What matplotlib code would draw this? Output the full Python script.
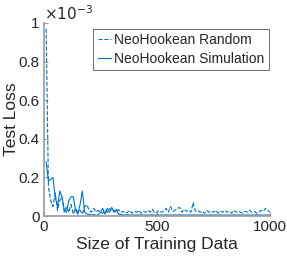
import numpy as np
import matplotlib
matplotlib.use("Agg")
import matplotlib.pyplot as plt
from matplotlib.ticker import FuncFormatter

plt.rcParams["font.family"] = ["Liberation Sans", "DejaVu Sans"]

# training data sizes
sizes = np.arange(10, 1001, 10)

# test loss (x 1e-3)
random_loss = [
    0.97, 0.15, 0.08, 0.05, 0.12, 0.03, 0.08, 0.10, 0.02, 0.05,
    0.02, 0.06, 0.01, 0.04, 0.02, 0.03, 0.01, 0.05, 0.06, 0.03,
    0.02, 0.04, 0.02, 0.03, 0.02, 0.015, 0.03, 0.02, 0.04, 0.025,
    0.03, 0.02, 0.035, 0.02, 0.025, 0.015, 0.02, 0.03, 0.015, 0.025,
    0.02, 0.03, 0.015, 0.025, 0.02, 0.03, 0.02, 0.035, 0.015, 0.02,
    0.03, 0.02, 0.025, 0.04, 0.02, 0.05, 0.025, 0.03, 0.04, 0.045,
    0.02, 0.035, 0.025, 0.03, 0.02, 0.07, 0.025, 0.03, 0.02, 0.025,
    0.015, 0.03, 0.02, 0.025, 0.02, 0.03, 0.015, 0.025, 0.02, 0.03,
    0.02, 0.025, 0.015, 0.03, 0.02, 0.025, 0.02, 0.015, 0.025, 0.02,
    0.03, 0.02, 0.025, 0.015, 0.02, 0.03, 0.025, 0.04, 0.03, 0.02,
]
sim_loss = [
    0.28, 0.18, 0.19, 0.20, 0.10, 0.05, 0.13, 0.10, 0.03, 0.02,
    0.08, 0.10, 0.10, 0.03, 0.01, 0.06, 0.13, 0.02, 0.01, 0.01,
    0.005, 0.008, 0.005, 0.006, 0.02, 0.04, 0.01, 0.04, 0.02, 0.045,
    0.02, 0.035, 0.01, 0.008, 0.006, 0.005, 0.007, 0.005, 0.006, 0.005,
    0.006, 0.005, 0.007, 0.005, 0.006, 0.005, 0.006, 0.007, 0.005, 0.006,
    0.005, 0.006, 0.005, 0.007, 0.005, 0.006, 0.005, 0.006, 0.005, 0.007,
    0.005, 0.006, 0.005, 0.006, 0.005, 0.007, 0.005, 0.006, 0.005, 0.006,
    0.005, 0.006, 0.005, 0.007, 0.005, 0.006, 0.005, 0.006, 0.005, 0.006,
    0.005, 0.006, 0.005, 0.007, 0.005, 0.006, 0.005, 0.006, 0.005, 0.006,
    0.005, 0.006, 0.005, 0.007, 0.005, 0.006, 0.005, 0.006, 0.005, 0.006,
]

random_loss = np.array(random_loss) * 1e-3
sim_loss = np.array(sim_loss) * 1e-3

blue = "#0072BD"
dark = "#262626"

fig = plt.figure(figsize=(2.87, 2.61), dpi=100)
ax = fig.add_axes([0.153, 0.172, 0.788, 0.740])

ax.plot(sizes, random_loss, "--", color=blue, lw=0.8, label="NeoHookean Random")
ax.plot(sizes, sim_loss, "-", color=blue, lw=0.8, label="NeoHookean Simulation")

ax.set_xlim(0, 1000)
ax.set_ylim(0, 1e-3)
ax.set_xticks([0, 500, 1000])
ax.set_yticks(np.arange(0, 1.01e-3, 0.2e-3))
ax.yaxis.set_major_formatter(FuncFormatter(lambda v, p: f"{v * 1e3:g}"))
ax.text(0.0, 1.0, r"$\times10^{-3}$", transform=ax.transAxes,
        fontsize=11, ha="left", va="bottom", color=dark)

for s in ["top", "right"]:
    ax.spines[s].set_visible(False)
for s in ["left", "bottom"]:
    ax.spines[s].set_color("#999999")
    ax.spines[s].set_linewidth(1.2)
ax.tick_params(direction="in", length=3, color="#999999", labelsize=11,
               labelcolor=dark, pad=3)

ax.set_xlabel("Size of Training Data", fontsize=12.5, color=dark, labelpad=2)
ax.set_ylabel("Test Loss", fontsize=12.5, color=dark, labelpad=0)

leg = ax.legend(loc="upper right", bbox_to_anchor=(1.0, 0.975), fontsize=10,
                handlelength=1.0, handletextpad=0.2, borderpad=0.3,
                labelspacing=0.35, borderaxespad=0.1, fancybox=False,
                framealpha=1)
leg.get_frame().set_edgecolor("#555555")
leg.get_frame().set_linewidth(0.6)
for t in leg.get_texts():
    t.set_color(dark)

fig.savefig("out.png", dpi=100)
